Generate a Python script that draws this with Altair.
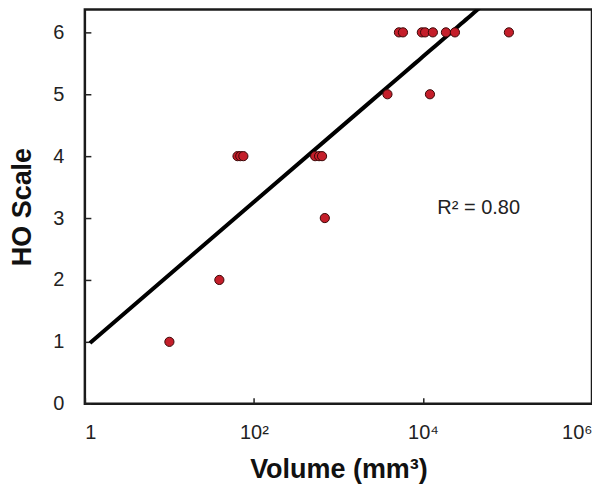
import altair as alt
import pandas as pd

# Data
volume = [5200, 5800, 9700, 10600, 13100, 18700, 23900, 104000,
          3800, 12100,
          64, 69, 75, 530, 590, 640,
          690, 39, 10]
ho_scale = [6, 6, 6, 6, 6, 6, 6, 6,
            5, 5,
            4, 4, 4, 4, 4, 4,
            3, 2, 1]

x_ticks = [1, 100, 10000, 1000000]
y_ticks = [0, 1, 2, 3, 4, 5, 6]
r2_text = ["R\u00b2 = 0.80"]
r2_x = [14800]
r2_y = [3.16]

df = pd.DataFrame({"volume": volume, "ho": ho_scale})
ann = pd.DataFrame({"x": r2_x, "y": r2_y, "t": r2_text})

font = "Liberation Sans"
x_scale = alt.Scale(type="log", domain=[1, 1000000], nice=False)
y_scale = alt.Scale(domain=[0, 6.371], nice=False, zero=False)

x_axis = alt.Axis(
    values=x_ticks,
    labelExpr="datum.value == 1 ? '1' : datum.value == 100 ? '10\u00b2' : datum.value == 10000 ? '10\u2074' : '10\u2076'",
    grid=False, domain=False, tickSize=6, offset=-6, tickColor="#222", tickWidth=1.5,
    labelPadding=19, labelFontSize=20, labelFont=font, labelColor="#222",
    title="Volume (mm\u00b3)", titleFontSize=27, titleFont=font, titleFontWeight="bold",
    titleColor="#111", titlePadding=14,
)
y_axis = alt.Axis(
    values=y_ticks, format="d",
    grid=False, domain=False, tickSize=6, offset=-6, tickColor="#222", tickWidth=1.5,
    labelPadding=21, labelFontSize=20, labelFont=font, labelColor="#222",
    title="HO Scale", titleFontSize=27, titleFont=font, titleFontWeight="bold",
    titleColor="#111", titlePadding=16,
)

base = alt.Chart(df)

line = base.transform_regression(
    "volume", "ho", method="log", extent=[1.15, 200000]
).mark_line(color="black", strokeWidth=4, clip=True).encode(
    x=alt.X("volume:Q", scale=x_scale, axis=x_axis),
    y=alt.Y("ho:Q", scale=y_scale, axis=y_axis),
)

points = base.mark_point(
    filled=True, fill="#c41e2a", stroke="#3a0808", strokeWidth=1, size=85, opacity=1
).encode(
    x=alt.X("volume:Q", scale=x_scale),
    y=alt.Y("ho:Q", scale=y_scale),
)

text = alt.Chart(ann).mark_text(
    align="left", baseline="middle", fontSize=20, font=font, color="#222"
).encode(
    x=alt.X("x:Q", scale=x_scale),
    y=alt.Y("y:Q", scale=y_scale),
    text="t:N",
)

chart = alt.layer(line, points, text).properties(
    width=508, height=395,
    background="white",
    autosize=alt.AutoSizeParams(type="none"),
    padding={"left": 77, "top": 1, "right": 0, "bottom": 80},
).configure_view(stroke="#1a1a1a", strokeWidth=2.5, strokeOpacity=1)

chart.save("out.html", embed_options={"renderer": "svg", "actions": False})
